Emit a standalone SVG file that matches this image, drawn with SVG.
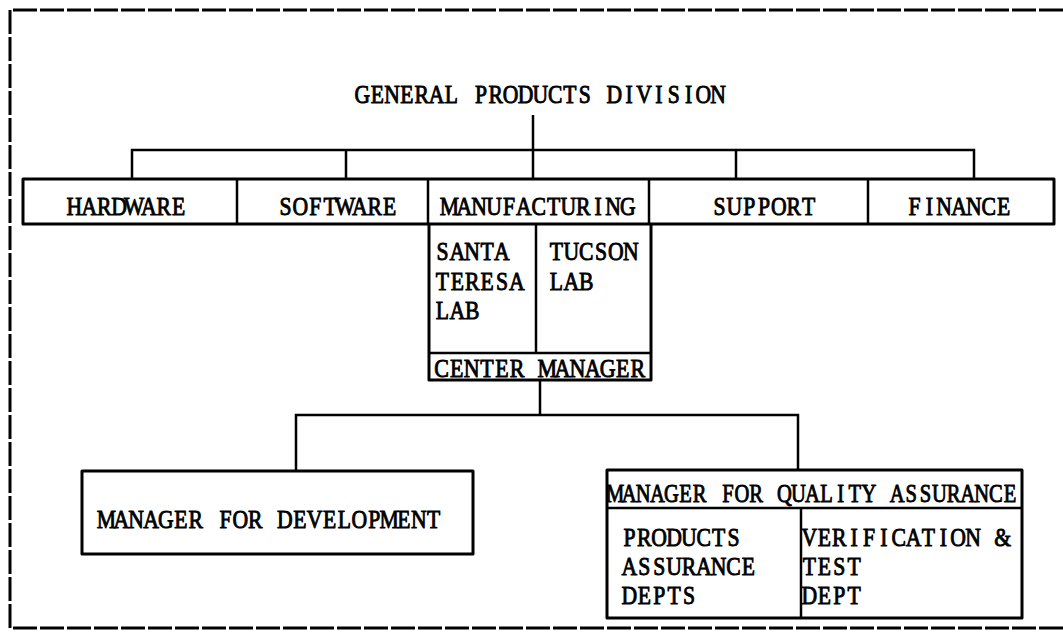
<svg xmlns="http://www.w3.org/2000/svg" width="1063" height="633" viewBox="0 0 1063 633">
<style>
  .frame { fill: none; stroke: #000; stroke-width: 3; stroke-dasharray: 24 3; }
  .box { fill: none; stroke: #000; stroke-width: 3; stroke-linejoin: round; }
  .div { fill: none; stroke: #000; stroke-width: 2.5; }
  .conn { fill: none; stroke: #000; stroke-width: 2.5; }
  text { font-family: "Liberation Serif", "Times New Roman", serif; font-size: 25.5px; fill: #000; stroke: #000; stroke-width: 0.9; text-anchor: middle; }
</style>
<rect x="0" y="0" width="1063" height="633" fill="#fff"/>
<g id="frame">
  <path class="frame" d="M1063 10 H10 V628 H1063"/>
</g>
<g id="connectors">
  <path class="conn" d="M533 115 V150"/>
  <path class="conn" d="M132 179 V150 H974 V179"/>
  <path class="conn" d="M346 150 V179"/>
  <path class="conn" d="M533 150 V179"/>
  <path class="conn" d="M736 150 V179"/>
  <path class="conn" d="M540 380 V415"/>
  <path class="conn" d="M296 471 V415 H798 V470"/>
</g>
<g id="title">
  <text transform="translate(355 103) scale(0.847 1)" x="8.75 26.25 43.75 61.25 78.75 96.25 113.75 131.25 148.75 166.25 183.75 201.25 218.75 236.25 253.75 271.25 288.75 306.25 323.75 341.25 358.75 376.25 393.75 411.25 428.75 446.25 463.75 481.25 498.75" y="0">GENERAL PRODUCTS DIVISION</text>
</g>
<g id="row">
  <rect class="box" x="23" y="179" width="1031" height="45"/>
</g>
<g id="hardware">
  <text transform="translate(67 215) scale(0.85 1)" x="8.75 26.25 43.75 61.25 78.75 96.25 113.75 131.25 148.75 166.25 183.75 201.25 218.75 236.25" y="0">HARDWARE</text>
</g>
<g id="software">
  <path class="div" d="M237 179 V224"/>
  <text transform="translate(278 215) scale(0.85 1)" x="8.75 26.25 43.75 61.25 78.75 96.25 113.75 131.25 148.75 166.25 183.75 201.25 218.75 236.25" y="0">SOFTWARE</text>
</g>
<g id="manufacturing">
  <path class="div" d="M428 179 V224"/>
  <text transform="translate(442 215) scale(0.85 1)" x="8.75 26.25 43.75 61.25 78.75 96.25 113.75 131.25 148.75 166.25 183.75 201.25 218.75 236.25" y="0">MANUFACTURING</text>
</g>
<g id="support">
  <path class="div" d="M649 179 V224"/>
  <text transform="translate(712 215) scale(0.85 1)" x="8.75 26.25 43.75 61.25 78.75 96.25 113.75 131.25 148.75 166.25 183.75 201.25 218.75 236.25" y="0">SUPPORT</text>
</g>
<g id="finance">
  <path class="div" d="M868 179 V224"/>
  <text transform="translate(907 215) scale(0.85 1)" x="8.75 26.25 43.75 61.25 78.75 96.25 113.75 131.25 148.75 166.25 183.75 201.25 218.75 236.25" y="0">FINANCE</text>
</g>
<g id="labs">
  <path class="box" d="M429 224 V380 H651 V224"/>
  <path class="div" d="M536 224 V353"/>
  <path class="div" d="M429 353 H651"/>
  <text transform="translate(435 260) scale(0.85 1)" x="8.75 26.25 43.75 61.25 78.75 96.25 113.75 131.25" y="0">SANTA</text>
  <text transform="translate(435 290) scale(0.85 1)" x="8.75 26.25 43.75 61.25 78.75 96.25 113.75 131.25" y="0">TERESA</text>
  <text transform="translate(435 319) scale(0.85 1)" x="8.75 26.25 43.75 61.25 78.75 96.25 113.75 131.25" y="0">LAB</text>
  <text transform="translate(549 260) scale(0.85 1)" x="8.75 26.25 43.75 61.25 78.75 96.25 113.75 131.25" y="0">TUCSON</text>
  <text transform="translate(549 290) scale(0.85 1)" x="8.75 26.25 43.75 61.25 78.75 96.25 113.75 131.25" y="0">LAB</text>
</g>
<g id="center-manager">
  <text transform="translate(434 377) scale(0.863 1)" x="8.75 26.25 43.75 61.25 78.75 96.25 113.75 131.25 148.75 166.25 183.75 201.25 218.75 236.25 253.75" y="0">CENTER MANAGER</text>
</g>
<g id="dev">
  <rect class="box" x="82" y="471" width="391" height="83"/>
  <text transform="translate(99 528) scale(0.85 1)" x="8.75 26.25 43.75 61.25 78.75 96.25 113.75 131.25 148.75 166.25 183.75 201.25 218.75 236.25 253.75 271.25 288.75 306.25 323.75 341.25 358.75 376.25 393.75 411.25" y="0">MANAGER FOR DEVELOPMENT</text>
</g>
<g id="qa">
  <rect class="box" x="607" y="470" width="415" height="148"/>
  <path class="div" d="M607 508 H1022"/>
  <path class="div" d="M801 508 V618"/>
  <text transform="translate(608 502) scale(0.806 1)" x="8.75 26.25 43.75 61.25 78.75 96.25 113.75 131.25 148.75 166.25 183.75 201.25 218.75 236.25 253.75 271.25 288.75 306.25 323.75 341.25 358.75 376.25 393.75 411.25 428.75 446.25 463.75 481.25 498.75" y="0">MANAGER FOR QUALITY ASSURANCE</text>
  <text transform="translate(622 546) scale(0.85 1)" x="8.75 26.25 43.75 61.25 78.75 96.25 113.75 131.25 148.75 166.25" y="0">PRODUCTS</text>
  <text transform="translate(622 575) scale(0.85 1)" x="8.75 26.25 43.75 61.25 78.75 96.25 113.75 131.25 148.75 166.25" y="0">ASSURANCE</text>
  <text transform="translate(622 604) scale(0.85 1)" x="8.75 26.25 43.75 61.25 78.75 96.25 113.75 131.25 148.75 166.25" y="0">DEPTS</text>
  <text transform="translate(802 546) scale(0.85 1)" x="8.75 26.25 43.75 61.25 78.75 96.25 113.75 131.25 148.75 166.25 183.75 201.25 218.75 236.25 253.75" y="0">VERIFICATION &amp;</text>
  <text transform="translate(802 575) scale(0.85 1)" x="8.75 26.25 43.75 61.25 78.75 96.25 113.75 131.25 148.75 166.25" y="0">TEST</text>
  <text transform="translate(802 604) scale(0.85 1)" x="8.75 26.25 43.75 61.25 78.75 96.25 113.75 131.25 148.75 166.25" y="0">DEPT</text>
</g>
</svg>
